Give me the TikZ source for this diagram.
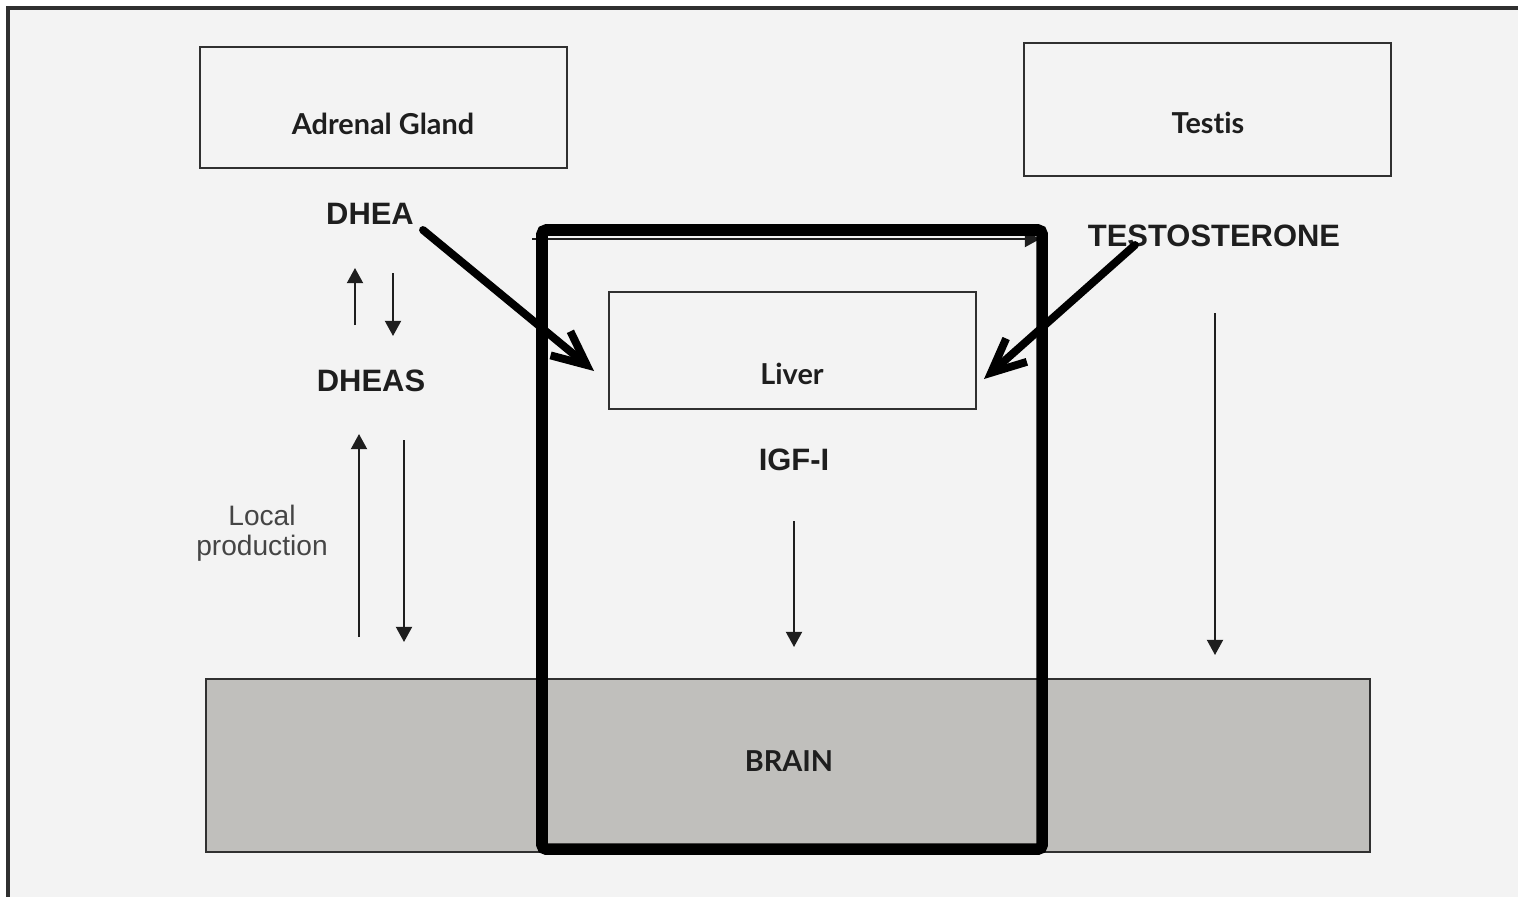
\documentclass[tikz,border=0pt]{standalone}
\usepackage{fontspec}
\newfontfamily\organfont[Ligatures=NoCommon]{Lato}
\newfontfamily\hormfont{Liberation Sans}
\usetikzlibrary{arrows.meta, positioning}
\definecolor{cbg}{HTML}{F3F3F3}
\definecolor{cink}{HTML}{1E1E1E}
\definecolor{cline}{HTML}{303030}
\definecolor{cbrain}{HTML}{C0BFBC}
\tikzset{
  every picture/.style={x=0.025cm, y=-0.025cm},
  organ/.style={draw=cline, line width=1.4pt, fill=#1, anchor=north west, inner sep=0pt, outer sep=0pt},
  organ/.default=cbg,
  organtext/.style={font=\organfont\bfseries\fontsize{20.5}{24}\selectfont, text=cink, anchor=base, inner sep=0pt},
  horm/.style={font=\hormfont\bfseries\fontsize{22}{26}\selectfont, text=cink, anchor=base, inner sep=0pt},
  note/.style={font=\hormfont\fontsize{20}{21.3}\selectfont, text=cline!90, align=center, anchor=north, inner sep=0pt},
  thinarrow/.style={-{Triangle[length=0.38cm, width=0.4cm]}, draw=cink, line width=1.5pt},
  boldarrow/.style={-{Straight Barb[length=0.85cm, width=0.78cm]}, draw=black, line width=5.6pt, line cap=round, line join=round},
}

\begin{document}
\begin{tikzpicture}
  \useasboundingbox (0,0) rectangle (1518,896);
  \fill[white] (0,0) rectangle (1518,896);
  \draw[draw=cline, line width=2.2pt, fill=cbg] (8,8) rectangle (1560,940);
  % organs
  \node[organ, minimum width=9.175cm, minimum height=3.025cm] (adrenal) at (200,47) {};
  \node[organtext] (adrenaltxt) at (383,134) {Adrenal Gland};
  \node[organ, minimum width=9.175cm, minimum height=3.325cm] (testis) at (1024,43) {};
  \node[organtext] (testistxt) at (1208,133) {Testis};
  \node[organ=cbrain, minimum width=29.1cm, minimum height=4.325cm] (brain) at (206,679) {};
  \node[organtext] (braintxt) at (789,771) {BRAIN};
  \node[organ, minimum width=9.175cm, minimum height=2.925cm] (liver) at (609,292) {};
  \node[organtext] (livertxt) at (792,384) {Liver};
  % hormones
  \node[horm] (dhea) at (370,224) {DHEA};
  \node[horm] (dheas) at (371,391) {DHEAS};
  \node[horm] (testo) at (1214,246) {TESTOSTERONE};
  \node[horm] (igf) at (794,470) {IGF-I};
  \node[note] (local) at (262,505) {Local\\production};
  % thin arrows
  \foreach \nm/\xa/\ya/\xb/\yb in {dup/355/325/355/268, ddown/393/273/393/336,
      lup/359/637/359/434, ldown/404/440/404/642, igfdown/794/521/794/647,
      tdown/1215/313/1215/655, top/532/239/1040/239} {
    \coordinate (\nm a) at (\xa,\ya);
    \coordinate (\nm b) at (\xb,\yb);
    \draw[thinarrow] (\nm a) -- (\nm b);
  }
  % the frame round the liver path
  \node[draw=black, line width=8.2pt, rounded corners=3pt, minimum width=12.5cm, minimum height=15.475cm,
    anchor=north west, inner sep=0pt, outer sep=0pt] (frame) at (542,230) {};
  % bold arrows into the liver
  \coordinate (dheaout) at (423,230);
  \coordinate (liverin) at (594,371);
  \coordinate (testoout) at (1135,245);
  \coordinate (liverin2) at (984,379);
  \draw[boldarrow] (dheaout) -- (liverin);
  \draw[boldarrow] (testoout) -- (liverin2);
\end{tikzpicture}
\end{document}
